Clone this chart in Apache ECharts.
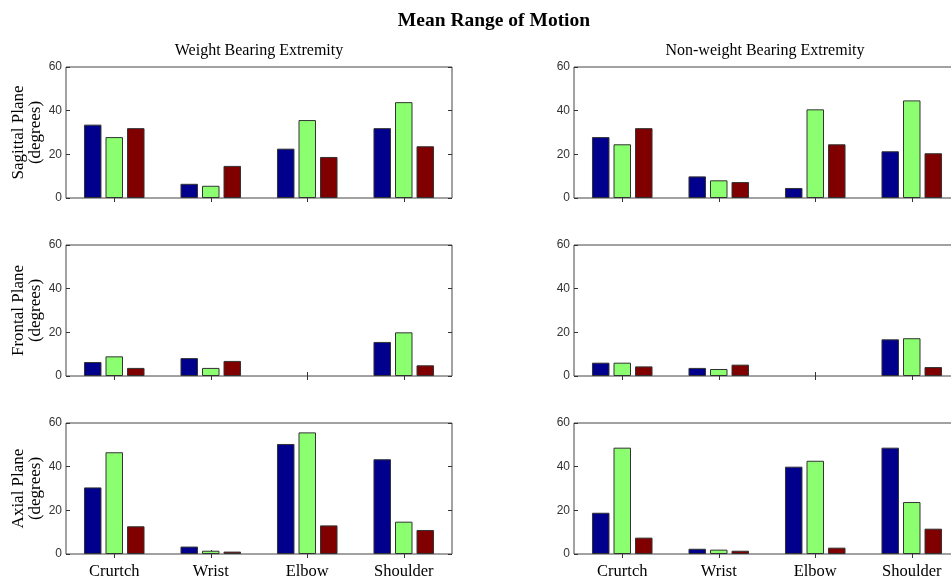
<!DOCTYPE html>
<html>
<head>
<meta charset="utf-8">
<script src="https://cdn.jsdelivr.net/npm/echarts@6/dist/echarts.min.js"></script>
<style>html,body{margin:0;padding:0;background:#fff;}#c{width:951px;height:577px;}</style>
</head>
<body>
<div id="c"></div>
<script>
const categories = ['Crurtch', 'Wrist', 'Elbow', 'Shoulder'];
const yTicks = [0, 20, 40, 60];

// Weight bearing extremity
const sagittalWB_1 = [33.6, 6.5, 22.6, 32.0];
const sagittalWB_2 = [27.9, 5.6, 35.7, 43.9];
const sagittalWB_3 = [32.0, 14.7, 18.8, 23.7];
const frontalWB_1 = [6.4, 8.2, 0, 15.6];
const frontalWB_2 = [9.0, 3.7, 0, 20.0];
const frontalWB_3 = [3.7, 6.9, 0, 4.9];
const axialWB_1 = [30.5, 3.4, 50.4, 43.4];
const axialWB_2 = [46.6, 1.5, 55.7, 14.8];
const axialWB_3 = [12.7, 1.1, 13.1, 11.0];

// Non-weight bearing extremity
const sagittalNWB_1 = [27.9, 9.9, 4.6, 21.4];
const sagittalNWB_2 = [24.6, 8.1, 40.6, 44.7];
const sagittalNWB_3 = [32.0, 7.3, 24.6, 20.5];
const frontalNWB_1 = [6.1, 3.7, 0, 16.8];
const frontalNWB_2 = [6.1, 3.2, 0, 17.3];
const frontalNWB_3 = [4.4, 5.2, 0, 4.1];
const axialNWB_1 = [18.9, 2.4, 40.0, 48.7];
const axialNWB_2 = [48.7, 2.0, 42.7, 23.8];
const axialNWB_3 = [7.5, 1.5, 2.9, 11.6];

const mainTitle = 'Mean Range of Motion';
const colTitles = ['Weight Bearing Extremity', 'Non-weight Bearing Extremity'];
const rowNames = ['Sagittal Plane\n(degrees)', 'Frontal Plane\n(degrees)', 'Axial Plane\n(degrees)'];
const panels = [
  [sagittalWB_1, sagittalWB_2, sagittalWB_3],
  [sagittalNWB_1, sagittalNWB_2, sagittalNWB_3],
  [frontalWB_1, frontalWB_2, frontalWB_3],
  [frontalNWB_1, frontalNWB_2, frontalNWB_3],
  [axialWB_1, axialWB_2, axialWB_3],
  [axialNWB_1, axialNWB_2, axialNWB_3]
];
const colors = ['#00008c', '#8cff70', '#800000'];

const rowTops = [67, 245, 423];
const plotH = 131;
const colLefts = [66, 574];
const plotW = 386;
const serif = 'Liberation Serif';
const sans = 'Liberation Sans';

const grid = [], xAxis = [], yAxis = [], series = [];
panels.forEach((p, i) => {
  const row = Math.floor(i / 2), col = i % 2;
  grid.push({left: colLefts[col], top: rowTops[row], width: plotW, height: plotH,
    outerBoundsMode: 'none', containLabel: false,
    show: true, borderColor: '#444', borderWidth: 1, backgroundColor: '#fff'});
  const isBottom = row === 2;
  xAxis.push({type: 'category', gridIndex: i, data: categories, position: 'bottom',
    axisLine: {show: false},
    axisTick: {show: true, inside: true, alignWithLabel: true, length: 4, lineStyle: {color: '#333'}},
    axisLabel: {show: isBottom, fontFamily: serif, fontSize: 16.5, color: '#000', margin: 9}});
  xAxis.push({type: 'category', gridIndex: i, data: categories, position: 'top',
    axisLine: {show: false},
    axisTick: {show: true, inside: true, alignWithLabel: true, length: 4, lineStyle: {color: '#333'}},
    axisLabel: {show: false}});
  yAxis.push({type: 'value', gridIndex: i, min: yTicks[0], max: yTicks[yTicks.length - 1], interval: 20,
    position: 'left', splitLine: {show: false},
    axisLine: {show: false},
    axisTick: {show: true, inside: true, length: 4, lineStyle: {color: '#333'}},
    axisLabel: {fontFamily: sans, fontSize: 12, color: '#333', margin: 4},
    name: col === 0 ? rowNames[row] : '', nameLocation: 'middle', nameGap: 22, nameRotate: 90,
    nameTextStyle: {fontFamily: serif, fontSize: 17, color: '#000', lineHeight: 17}});
  yAxis.push({type: 'value', gridIndex: i, min: 0, max: 60, interval: 20, position: 'right',
    splitLine: {show: false}, axisLine: {show: false},
    axisTick: {show: true, inside: true, length: 4, lineStyle: {color: '#333'}},
    axisLabel: {show: false}});
  p.forEach((vals, k) => {
    series.push({type: 'bar', xAxisIndex: 2 * i, yAxisIndex: 2 * i,
      data: vals.map(v => (v === 0 ? '-' : v)),
      barWidth: 17.5, barGap: '23%', silent: true,
      itemStyle: {color: colors[k], borderColor: '#333', borderWidth: 1}});
  });
});

const chart = echarts.init(document.getElementById('c'), null, {renderer: 'canvas'});
chart.setOption({
  animation: false,
  backgroundColor: '#fff',
  graphic: [
    {type: 'text', silent: true, style: {text: mainTitle, x: 494, y: 21, textAlign: 'center',
      textVerticalAlign: 'middle', font: 'bold 19.5px "Liberation Serif"', fill: '#000'}},
    {type: 'text', silent: true, style: {text: colTitles[0], x: 259, y: 51, textAlign: 'center',
      textVerticalAlign: 'middle', font: '16px "Liberation Serif"', fill: '#000'}},
    {type: 'text', silent: true, style: {text: colTitles[1], x: 765, y: 51, textAlign: 'center',
      textVerticalAlign: 'middle', font: '16px "Liberation Serif"', fill: '#000'}}
  ],
  grid, xAxis, yAxis, series
});
</script>
</body>
</html>
